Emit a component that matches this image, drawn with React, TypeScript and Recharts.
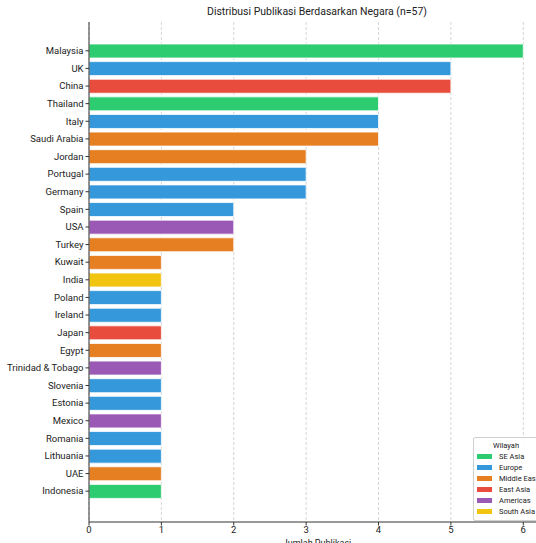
import * as React from "react";
import { BarChart, Bar, XAxis, YAxis, CartesianGrid, Cell } from "recharts";

const countries = [
  "Malaysia", "UK", "China", "Thailand", "Italy", "Saudi Arabia", "Jordan",
  "Portugal", "Germany", "Spain", "USA", "Turkey", "Kuwait", "India", "Poland",
  "Ireland", "Japan", "Egypt", "Trinidad & Tobago", "Slovenia", "Estonia",
  "Mexico", "Romania", "Lithuania", "UAE", "Indonesia",
];
const counts = [6, 5, 5, 4, 4, 4, 3, 3, 3, 2, 2, 2, 1, 1, 1, 1, 1, 1, 1, 1, 1, 1, 1, 1, 1, 1];
const regions = [
  "SE Asia", "Europe", "East Asia", "SE Asia", "Europe", "Middle East", "Middle East",
  "Europe", "Europe", "Europe", "Americas", "Middle East", "Middle East", "South Asia",
  "Europe", "Europe", "East Asia", "Middle East", "Americas", "Europe", "Europe",
  "Americas", "Europe", "Europe", "Middle East", "SE Asia",
];
const regionNames = ["SE Asia", "Europe", "Middle East", "East Asia", "Americas", "South Asia"];
const regionColors = ["#2ecc71", "#3498db", "#e67e22", "#e74c3c", "#9b59b6", "#f1c40f"];
const xTicks = [0, 1, 2, 3, 4, 5, 6];

const FONT = "Roboto, 'DejaVu Sans', sans-serif";

const colorOf = (r: string) => regionColors[regionNames.indexOf(r)];

const data = countries.map((c, i) => ({ country: c, value: counts[i], region: regions[i] }));

function CountryTick(props: any) {
  const { x, y, payload } = props;
  return (
    <text x={x} y={y} dy={3.3} textAnchor="end" fill="#222" fontSize={9.5} fontFamily={FONT}>
      {payload.value}
    </text>
  );
}

function RegionLegend() {
  return (
    <div
      style={{
        position: "absolute",
        left: 473,
        top: 437,
        border: "1px solid #d0d0d0",
        borderRadius: 2,
        background: "rgba(255,255,255,0.9)",
        padding: "2px 4px 3px 3px",
        fontFamily: FONT,
        fontSize: 7.5,
        color: "#222",
        width: 70,
        lineHeight: "11px",
      }}
    >
      <div style={{ textAlign: "center", width: 58 }}>Wilayah</div>
      {regionNames.map((r, i) => (
        <div key={r} style={{ display: "flex", alignItems: "center", whiteSpace: "nowrap" }}>
          <span
            style={{
              display: "inline-block",
              width: 15,
              height: 5,
              background: regionColors[i],
              marginRight: 7,
            }}
          />
          {r}
        </div>
      ))}
    </div>
  );
}

export default function App() {
  return (
    <div
      style={{
        position: "absolute",
        left: 0,
        top: 0,
        width: 536,
        height: 543,
        overflow: "hidden",
        background: "#fff",
      }}
    >
      <div
        style={{
          position: "absolute",
          top: 5,
          left: 89,
          width: 456,
          textAlign: "center",
          fontFamily: FONT,
          fontSize: 10.5,
          color: "#222",
        }}
      >
        Distribusi Publikasi Berdasarkan Negara (n=57)
      </div>
      <BarChart
        width={560}
        height={543}
        data={data}
        layout="vertical"
        margin={{ top: 22, right: 15, bottom: 0, left: 0 }}
        barCategoryGap={0}
      >
        <CartesianGrid horizontal={false} strokeDasharray="3 2" stroke="#d5d5d5" />
        <XAxis
          type="number"
          domain={[0, 6.3]}
          ticks={xTicks}
          height={21}
          tickSize={3.5}
          tickMargin={1}
          stroke="#333"
          tick={{ fill: "#222", fontSize: 9.5, fontFamily: FONT }}
          label={{
            value: "Jumlah Publikasi",
            position: "insideBottom",
            offset: -3,
            fill: "#222",
            fontSize: 9,
            fontFamily: FONT,
          }}
        />
        <XAxis
          xAxisId="top"
          type="number"
          orientation="top"
          domain={[0, 6.3]}
          height={0}
          tick={false}
          tickLine={false}
          stroke="#333"
        />
        <YAxis
          type="category"
          dataKey="country"
          width={89}
          interval={0}
          tickSize={3.5}
          tickMargin={2}
          stroke="#333"
          padding={{ top: 20, bottom: 22 }}
          tick={<CountryTick />}
        />
        <Bar dataKey="value" barSize={14} isAnimationActive={false} stroke="#fff" strokeWidth={0.8}>
          {data.map((d) => (
            <Cell key={d.country} fill={colorOf(d.region)} />
          ))}
        </Bar>
      </BarChart>
      <RegionLegend />
    </div>
  );
}
